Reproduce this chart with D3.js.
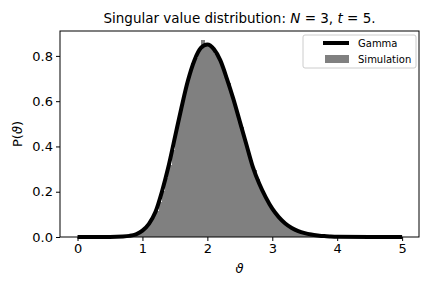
<!DOCTYPE html>
<html>
<head>
<meta charset="utf-8">
<script src="https://cdn.jsdelivr.net/npm/d3@7"></script>
<style>
  body { margin: 0; background: #fff; }
  text { font-family: "DejaVu Sans", sans-serif; fill: #000; }
</style>
</head>
<body>
<div id="chart"></div>
<script>
// Gamma curve
const curveX = [0, 0.5, 0.7, 0.8, 0.9, 1.0, 1.1, 1.2, 1.3, 1.4, 1.5, 1.6, 1.7, 1.8, 1.9, 2.0,
  2.1, 2.2, 2.3, 2.4, 2.5, 2.6, 2.7, 2.8, 2.9, 3.0, 3.1, 3.2, 3.3, 3.4, 3.5, 3.6, 3.7, 3.8,
  3.9, 4.0, 4.5, 5.0];
const curveY = [0, 0, 0.002, 0.005, 0.012, 0.028, 0.058, 0.11, 0.2, 0.31, 0.44, 0.57, 0.69,
  0.78, 0.835, 0.85, 0.83, 0.78, 0.70, 0.61, 0.51, 0.41, 0.31, 0.235, 0.175, 0.125, 0.088,
  0.06, 0.04, 0.026, 0.017, 0.011, 0.007, 0.004, 0.0025, 0.0015, 0.0002, 0];

// simulation histogram, bins of 0.05 starting at 0
const binStart = 0;
const binWidth = 0.05;
const binHeights = [
  0, 0, 0, 0, 0, 0, 0, 0, 0, 0, 0, 0, 0, 0,
  0.002, 0.003, 0.005, 0.008, 0.013, 0.02, 0.03, 0.043, 0.062, 0.085,
  0.115, 0.155, 0.205, 0.26, 0.32, 0.385, 0.47, 0.53, 0.6, 0.66, 0.72, 0.77,
  0.79, 0.825, 0.87, 0.845, 0.848, 0.835, 0.81, 0.785, 0.76, 0.72, 0.68, 0.63,
  0.585, 0.535, 0.485, 0.435, 0.385, 0.34, 0.295, 0.255, 0.215, 0.185, 0.155,
  0.13, 0.108, 0.09, 0.074, 0.06, 0.049, 0.039, 0.031, 0.025, 0.02, 0.015,
  0.012, 0.009, 0.007, 0.005, 0.004, 0.003, 0.002, 0.002, 0.001, 0.001,
  0, 0, 0, 0, 0, 0, 0, 0, 0, 0, 0, 0, 0, 0, 0, 0, 0, 0, 0, 0
];

const xTicks = [0, 1, 2, 3, 4, 5];
const yTicks = [0.0, 0.2, 0.4, 0.6, 0.8];

const W = 432, H = 288;
const m = { left: 60, right: 13, top: 31, bottom: 51 };

const svg = d3.select("#chart").append("svg")
  .attr("width", W).attr("height", H);

const x = d3.scaleLinear().domain([-0.27, 5.26]).range([m.left, W - m.right]);
const y = d3.scaleLinear().domain([0, 0.91]).range([H - m.bottom, m.top]);

// histogram bars
svg.append("g")
  .attr("shape-rendering", "crispEdges")
  .selectAll("rect")
  .data(binHeights)
  .enter()
  .append("rect")
  .attr("x", function(d, i) { return x(binStart + i * binWidth); })
  .attr("width", function(d, i) { return x(binStart + (i + 1) * binWidth) - x(binStart + i * binWidth) + 0.6; })
  .attr("y", function(d) { return y(d); })
  .attr("height", function(d) { return y(0) - y(d); })
  .attr("fill", "#808080");

// gamma line
const pts = curveX.map(function(v, i) { return [v, curveY[i]]; });
svg.append("path")
  .datum(pts)
  .attr("fill", "none")
  .attr("stroke", "#000")
  .attr("stroke-width", 4)
  .attr("stroke-linejoin", "round")
  .attr("d", d3.line()
    .x(function(d) { return x(d[0]); })
    .y(function(d) { return y(d[1]); })
    .curve(d3.curveMonotoneX));

// axes
const xAxis = svg.append("g")
  .attr("transform", "translate(0," + (H - m.bottom) + ")")
  .call(d3.axisBottom(x).tickValues(xTicks).tickFormat(d3.format("d")).tickSize(4).tickPadding(3));
const yAxis = svg.append("g")
  .attr("transform", "translate(" + m.left + ",0)")
  .call(d3.axisLeft(y).tickValues(yTicks).tickFormat(d3.format(".1f")).tickSize(4).tickPadding(3));
[xAxis, yAxis].forEach(function(a) {
  a.select(".domain").remove();
  a.selectAll("text").attr("font-size", 13).attr("font-family", "DejaVu Sans");
  a.selectAll("line").attr("stroke", "#000");
});

// frame
svg.append("rect")
  .attr("x", m.left).attr("y", m.top)
  .attr("width", W - m.right - m.left).attr("height", H - m.bottom - m.top)
  .attr("fill", "none").attr("stroke", "#000").attr("stroke-width", 1);

// title
const title = svg.append("text")
  .attr("x", (m.left + W - m.right) / 2).attr("y", 23)
  .attr("text-anchor", "middle").attr("font-size", 13.5);
title.append("tspan").text("Singular value distribution: ");
title.append("tspan").attr("font-style", "italic").text("N");
title.append("tspan").text(" = 3, ");
title.append("tspan").attr("font-style", "italic").text("t");
title.append("tspan").text(" = 5.");

// axis labels
svg.append("text")
  .attr("x", (m.left + W - m.right) / 2).attr("y", 273)
  .attr("text-anchor", "middle").attr("font-size", 13).attr("font-style", "italic")
  .text("ϑ");
const yl = svg.append("text")
  .attr("transform", "translate(22," + ((m.top + H - m.bottom) / 2) + ") rotate(-90)")
  .attr("text-anchor", "middle").attr("font-size", 13);
yl.append("tspan").text("P(");
yl.append("tspan").attr("font-style", "italic").text("ϑ");
yl.append("tspan").text(")");

// legend
const lg = svg.append("g").attr("transform", "translate(303,35)");
lg.append("rect").attr("width", 113).attr("height", 33).attr("rx", 2)
  .attr("fill", "#fff").attr("fill-opacity", 0.8).attr("stroke", "#ccc");
lg.append("line").attr("x1", 20).attr("x2", 46).attr("y1", 8).attr("y2", 8)
  .attr("stroke", "#000").attr("stroke-width", 4);
lg.append("rect").attr("x", 22).attr("y", 20).attr("width", 24).attr("height", 8)
  .attr("fill", "#808080");
lg.append("text").attr("x", 55).attr("y", 12).attr("font-size", 10).text("Gamma");
lg.append("text").attr("x", 55).attr("y", 28).attr("font-size", 10).text("Simulation");
</script>
</body>
</html>
